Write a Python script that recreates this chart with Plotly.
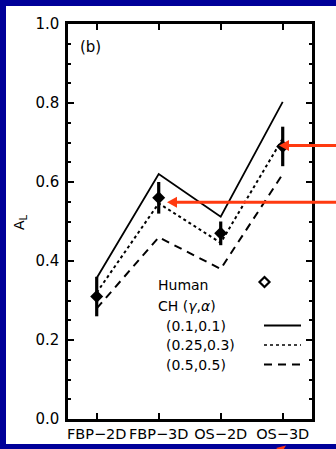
import plotly.graph_objects as go

categories = ["FBP\u22122D", "FBP\u22123D", "OS\u22122D", "OS\u22123D"]
human_mean = [0.31, 0.56, 0.47, 0.69]
human_err_plus = [0.05, 0.04, 0.03, 0.05]
human_err_minus = [0.05, 0.04, 0.03, 0.05]
ch_01_01 = [0.357, 0.62, 0.512, 0.803]
ch_025_03 = [0.32, 0.546, 0.446, 0.71]
ch_05_05 = [0.28, 0.46, 0.38, 0.62]
legend_labels = ["(0.1,0.1)", "(0.25,0.3)", "(0.5,0.5)"]
y_ticks = [0.0, 0.2, 0.4, 0.6, 0.8, 1.0]

W, H = 336, 449
L, R, T, B = 68, 24, 24, 30
PW, PH = W - L - R, H - T - B


def px(x):
    return (x - L) / PW


def py(y):
    return (H - B - y) / PH


FONT = "DejaVu Sans, Liberation Sans, Arial, sans-serif"
RED = "#ff3a10"
xpos = list(range(len(categories)))

fig = go.Figure()
fig.add_trace(go.Scatter(x=xpos, y=ch_01_01, mode="lines",
                         line=dict(color="black", width=1.8), showlegend=False))
fig.add_trace(go.Scatter(x=xpos, y=ch_025_03, mode="lines",
                         line=dict(color="black", width=2, dash="dot"), showlegend=False))
fig.add_trace(go.Scatter(x=xpos, y=ch_05_05, mode="lines",
                         line=dict(color="black", width=2, dash="8px,6px"), showlegend=False))
fig.add_trace(go.Scatter(
    x=xpos, y=human_mean, mode="markers",
    marker=dict(symbol="diamond", size=10, color="black"),
    error_y=dict(type="data", symmetric=False, array=human_err_plus,
                 arrayminus=human_err_minus, thickness=3.2, width=0, color="black"),
    showlegend=False))

shapes = []
# white page inside the blue frame
shapes.append(dict(type="rect", xref="paper", yref="paper", layer="below",
                   x0=px(6), x1=px(400), y0=py(444), y1=py(6),
                   fillcolor="white", line=dict(width=0)))
# legend line samples
dashes = ["solid", "dot", "8px,6px"]
rows_y = [325.5, 345, 364.5]
for d, yy in zip(dashes, rows_y):
    shapes.append(dict(type="line", xref="paper", yref="paper",
                       x0=px(264), x1=px(301), y0=py(yy), y1=py(yy),
                       line=dict(color="black", width=2 if d != "dot" else 1.5, dash=d)))
# hollow diamond legend key
cx, cy, r = 264.5, 282, 5
shapes.append(dict(type="path", xref="paper", yref="paper",
                   path=f"M {px(cx)} {py(cy - r)} L {px(cx + r)} {py(cy)} L {px(cx)} {py(cy + r)} L {px(cx - r)} {py(cy)} Z",
                   line=dict(color="black", width=2.2), fillcolor="white"))
# red arrows (annotation overlay of the slide)
for tipx, tipy in [(279, 145.5), (167, 202.3)]:
    shapes.append(dict(type="line", xref="paper", yref="paper",
                       x0=px(tipx + 6), x1=px(400), y0=py(tipy), y1=py(tipy),
                       line=dict(color=RED, width=3)))
    shapes.append(dict(type="path", xref="paper", yref="paper",
                       path=f"M {px(tipx)} {py(tipy)} L {px(tipx + 10)} {py(tipy - 5.5)} L {px(tipx + 10)} {py(tipy + 5.5)} Z",
                       line=dict(width=0), fillcolor=RED))
# small red arrow head at bottom
shapes.append(dict(type="path", xref="paper", yref="paper",
                   path=f"M {px(276)} {py(448)} L {px(286)} {py(445.5)} L {px(282)} {py(452)} Z",
                   line=dict(width=0), fillcolor=RED))

annotations = []
annotations.append(dict(text="(b)", x=px(78), y=py(47.5), xref="paper", yref="paper",
                        xanchor="left", yanchor="middle", showarrow=False,
                        font=dict(size=15, family=FONT, color="black")))
annotations.append(dict(text="A<sub>L</sub>", x=px(20), y=py(222), xref="paper", yref="paper",
                        xanchor="center", yanchor="middle", showarrow=False, textangle=-90,
                        font=dict(size=14, family=FONT, color="black")))
annotations.append(dict(text="Human", x=px(156), y=py(285), xref="paper", yref="paper",
                        xanchor="left", yanchor="middle", showarrow=False,
                        font=dict(size=14, family=FONT, color="black")))
annotations.append(dict(text="CH (<i>\u03b3</i>,<i>\u03b1</i>)", x=px(156), y=py(306), xref="paper", yref="paper",
                        xanchor="left", yanchor="middle", showarrow=False,
                        font=dict(size=14, family=FONT, color="black")))
for lab, yy in zip(legend_labels, rows_y):
    annotations.append(dict(text=lab, x=px(164), y=py(yy), xref="paper", yref="paper",
                            xanchor="left", yanchor="middle", showarrow=False,
                            font=dict(size=14, family=FONT, color="black")))

fig.update_layout(
    width=W, height=H,
    margin=dict(l=L, r=R, t=T, b=B, pad=0, autoexpand=False),
    paper_bgcolor="#000099", plot_bgcolor="white",
    font=dict(family=FONT, size=14, color="black"),
    shapes=shapes, annotations=annotations,
    showlegend=False,
)
fig.update_xaxes(
    range=[-0.463, -0.463 + PW / 62], tickmode="array", tickvals=xpos, ticktext=categories,
    ticks="inside", ticklen=6, tickwidth=2, tickcolor="black",
    showline=True, linewidth=2.5, linecolor="black", mirror="ticks",
    showgrid=False, zeroline=False, tickfont=dict(size=14.5, family=FONT, color="black"),
    automargin=False, fixedrange=True,
)
fig.update_yaxes(
    range=[0, 1], tickmode="array", tickvals=y_ticks, ticktext=[f"{v:.1f}" for v in y_ticks],
    ticks="inside", ticklen=6, tickwidth=2, tickcolor="black",
    minor=dict(dtick=0.05, ticks="inside", ticklen=3, tickwidth=2, tickcolor="black", showgrid=False),
    showline=True, linewidth=2.5, linecolor="black", mirror="ticks",
    showgrid=False, zeroline=False, tickfont=dict(size=15, family=FONT, color="black"),
    ticklabelstandoff=3,
    automargin=False, fixedrange=True,
)
page_css = (
    "var s=document.createElement('style');"
    "s.textContent='html,body{margin:0;padding:0;overflow:hidden;width:336px;height:449px;}';"
    "document.head.appendChild(s);"
)
fig.write_html("out.html", config={"displayModeBar": False}, post_script=page_css)
